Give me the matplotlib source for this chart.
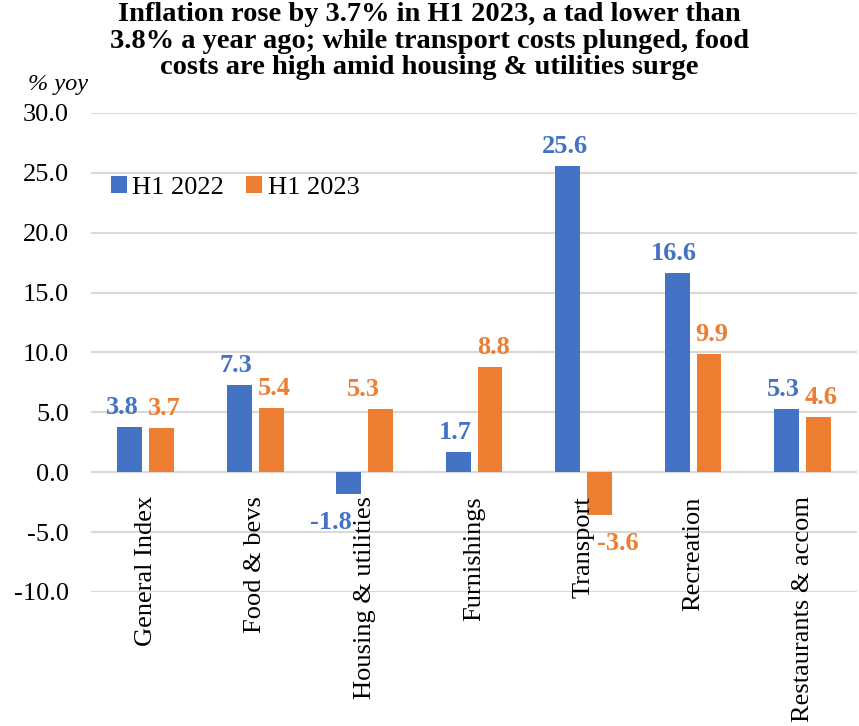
import numpy as np
import matplotlib.pyplot as plt

plt.rcParams['font.family'] = ['Liberation Serif', 'DejaVu Serif']

categories = ['General Index', 'Food & bevs', 'Housing & utilities', 'Furnishings',
              'Transport', 'Recreation', 'Restaurants & accom']
h1_2022 = [3.8, 7.3, -1.8, 1.7, 25.6, 16.6, 5.3]
h1_2023 = [3.7, 5.4, 5.3, 8.8, -3.6, 9.9, 4.6]
yticks = [-10, -5, 0, 5, 10, 15, 20, 25, 30]

blue = '#4472C4'
orange = '#ED7D31'

# extra sideways nudges (pixels) for crowded value labels
label_shift = {('H1 2022', 'General Index'): -5, ('H1 2023', 'Housing & utilities'): -20}

fig = plt.figure(figsize=(8.59, 7.26), dpi=100)
ax = fig.add_axes([0.106, 0.1846, 0.892, 0.6598])

x = np.arange(len(categories))
w = 0.227
off = 0.145
b1 = ax.bar(x - off, h1_2022, w, color=blue, label='H1 2022', zorder=3)
b2 = ax.bar(x + off, h1_2023, w, color=orange, label='H1 2023', zorder=3)

# value labels: above positive bars, below negative ones (nudged outward)
for bars, vals, col, side, name in [(b1, h1_2022, blue, -1, 'H1 2022'),
                                    (b2, h1_2023, orange, 1, 'H1 2023')]:
    for rect, v, cat in zip(bars, vals, categories):
        cx = rect.get_x() + rect.get_width() / 2
        dx = label_shift.get((name, cat), 0)
        if v >= 0:
            ax.annotate(f'{v:.1f}', (cx, v), xytext=(side * 3 + dx, 8), textcoords='offset pixels',
                        ha='center', va='bottom', color=col, fontsize=19, fontweight='bold')
        else:
            ax.annotate(f'{v:.1f}', (cx, v), xytext=(side * 18 + dx, -17), textcoords='offset pixels',
                        ha='center', va='top', color=col, fontsize=19, fontweight='bold')

# category names hang down from the zero line
for xi, name in zip(x, categories):
    ax.annotate(name, (xi, 0), xytext=(0, -24), textcoords='offset pixels',
                ha='center', va='top', rotation=90, fontsize=19)

ax.set_xlim(-0.5, len(categories) - 0.5)
ax.set_ylim(-10, 30)
ax.set_yticks(yticks)
ax.set_yticklabels([f'{t:.1f}' for t in yticks], fontsize=19)
ax.set_xticks([])
ax.tick_params(axis='y', length=0, pad=16)
ax.grid(axis='y', color='#d9d9d9', linewidth=1.5, zorder=0)
for s in ax.spines.values():
    s.set_visible(False)

ax.legend(loc='upper left', bbox_to_anchor=(-0.005, 0.918), ncol=2, frameon=False,
          fontsize=19, handlelength=0.6, handleheight=0.6, handletextpad=0.2,
          columnspacing=0.85)

fig.text(0.5, 0.997, 'Inflation rose by 3.7% in H1 2023, a tad lower than\n'
         '3.8% a year ago; while transport costs plunged, food\n'
         'costs are high amid housing & utilities surge',
         ha='center', va='top', fontsize=20.5, fontweight='bold', linespacing=1.07)
fig.text(0.033, 0.883, '% yoy', fontsize=17.5, style='italic', va='center')

fig.savefig('out.png', dpi=100)
